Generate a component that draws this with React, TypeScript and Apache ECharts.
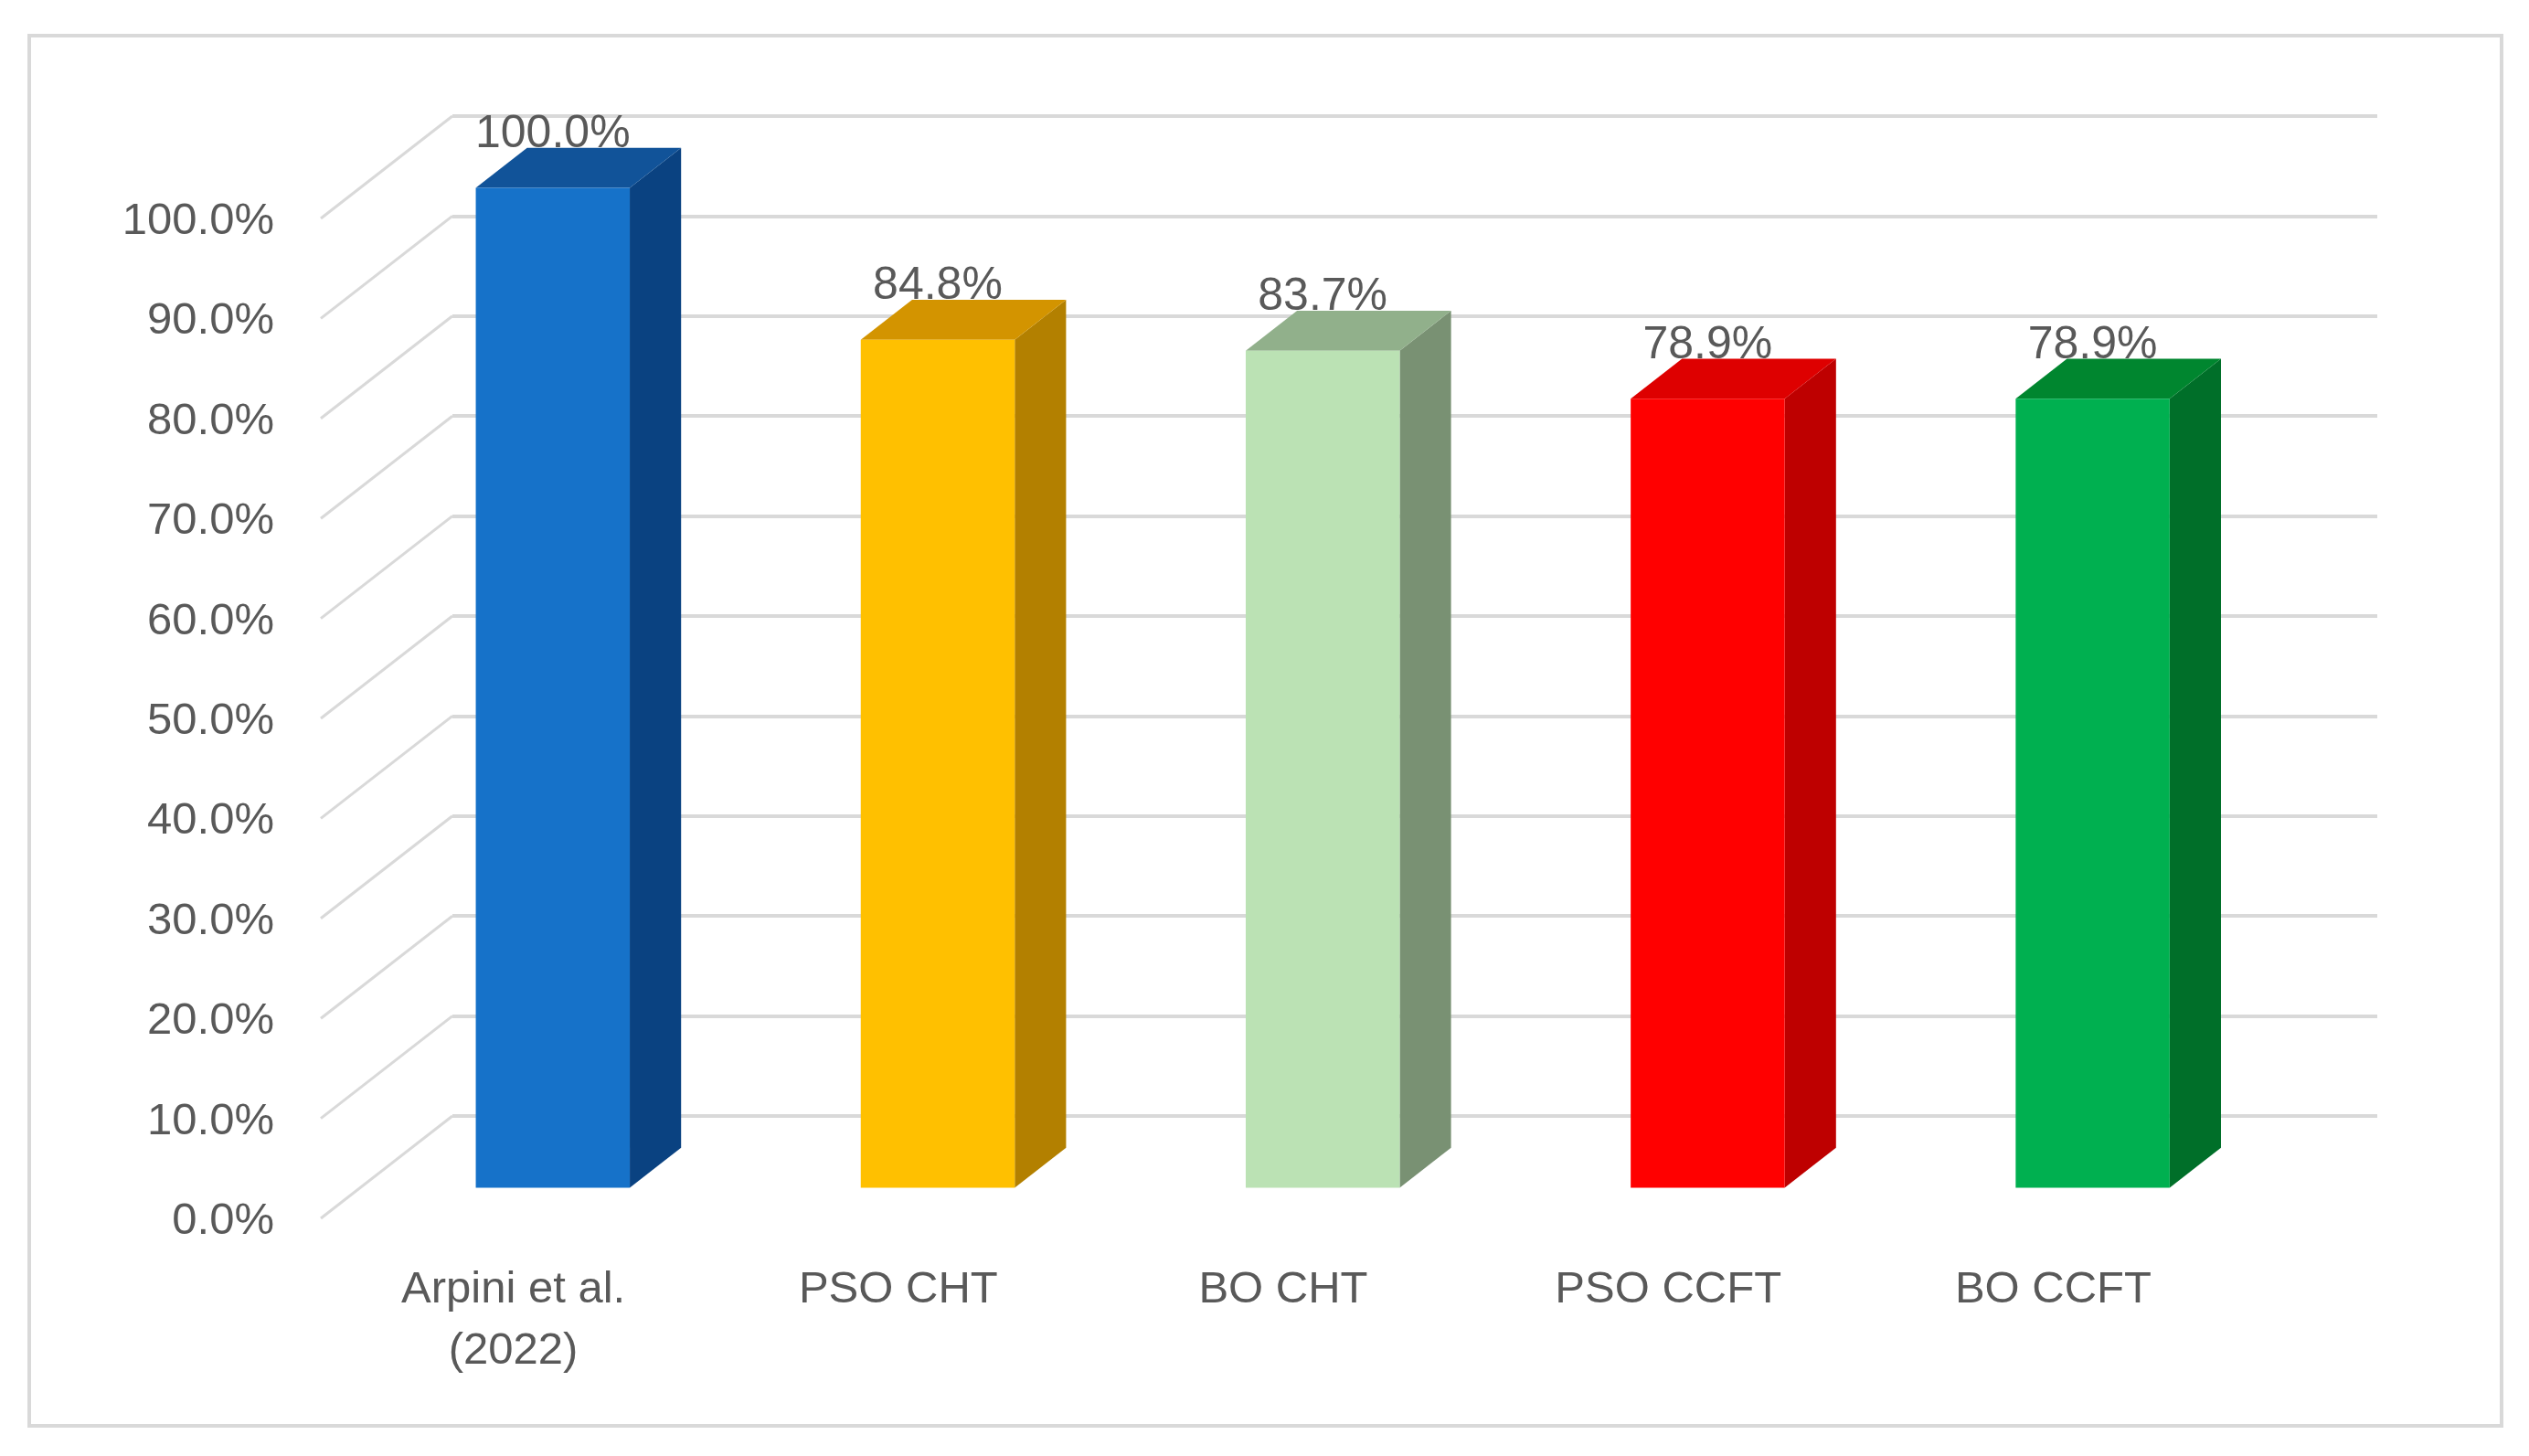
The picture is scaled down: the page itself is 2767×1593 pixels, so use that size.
import React, { useEffect, useRef } from "react";
import * as echarts from "echarts";

const categories = ["Arpini et al.\n(2022)", "PSO CHT", "BO CHT", "PSO CCFT", "BO CCFT"];
const values = [100.0, 84.8, 83.7, 78.9, 78.9];
const frontColors = ["#1672C9", "#FFC000", "#BBE2B4", "#FF0000", "#00B050"];
const topColors = ["#115399", "#D39400", "#91B08B", "#DE0000", "#00862F"];
const sideColors = ["#0A4281", "#B38000", "#799173", "#BE0000", "#006F29"];
const yTicks = [0, 10, 20, 30, 40, 50, 60, 70, 80, 90, 100];

const W = 2767;
const H = 1593;
const DX = 144; // depth projection (back wall offset)
const DY = -112;
const D0 = 0.3; // bar front depth
const D1 = 0.69; // bar back depth
const BAR_FRAC = 0.4;
const FRONT = { left: 351, right: 310, top: 239, bottom: 260 };
const TEXT = "#595959";
const GRID = "#D9D9D9";
const FONT = "'Liberation Sans', Arial, sans-serif";

export default function App() {
  const ref = useRef<HTMLDivElement>(null);
  useEffect(() => {
    if (!ref.current) return;
    const chart = echarts.init(ref.current, null, { renderer: "svg" });
    const barData = values.map((v, i) => [i, v]);
    const option: any = {
      animation: false,
      backgroundColor: "#ffffff",
      textStyle: { fontFamily: FONT },
      graphic: [
        {
          type: "rect",
          shape: { x: 32, y: 39, width: 2705, height: 1521 },
          style: { fill: "none", stroke: GRID, lineWidth: 4 },
          z: -10,
          silent: true,
        },
      ],
      grid: [
        {
          left: FRONT.left + DX,
          right: FRONT.right - DX,
          top: FRONT.top + DY,
          bottom: FRONT.bottom - DY,
        },
        { left: FRONT.left, right: FRONT.right, top: FRONT.top, bottom: FRONT.bottom },
      ],
      xAxis: [
        { type: "value", gridIndex: 0, min: 0, max: 1, show: false },
        {
          type: "category",
          gridIndex: 1,
          data: categories,
          axisLine: { show: false },
          axisTick: { show: false },
          splitLine: { show: false },
          axisLabel: {
            color: TEXT,
            fontSize: 49,
            fontFamily: FONT,
            lineHeight: 67,
            margin: 41,
            interval: 0,
          },
        },
      ],
      yAxis: [
        {
          type: "value",
          gridIndex: 0,
          min: 0,
          max: 100,
          interval: 10,
          axisLabel: { show: false },
          axisLine: { show: false },
          axisTick: { show: false },
          splitLine: { show: true, lineStyle: { color: GRID, width: 4 } },
        },
        {
          type: "value",
          gridIndex: 1,
          min: 0,
          max: 100,
          interval: 10,
          axisLine: { show: false },
          axisTick: { show: false },
          splitLine: { show: false },
          axisLabel: {
            color: TEXT,
            fontSize: 49,
            fontFamily: FONT,
            margin: 51,
            formatter: (v: number) => v.toFixed(1) + "%",
          },
        },
      ],
      series: [
        {
          type: "custom",
          xAxisIndex: 1,
          yAxisIndex: 1,
          silent: true,
          z: 1,
          data: yTicks.map((t) => [0, t]),
          renderItem: (params: any, api: any) => {
            const p = api.coord([0, api.value(1)]);
            const x0 = params.coordSys.x;
            return {
              type: "line",
              shape: { x1: x0, y1: p[1], x2: x0 + DX, y2: p[1] + DY },
              style: { stroke: GRID, lineWidth: 3 },
            };
          },
        },
        {
          type: "custom",
          xAxisIndex: 1,
          yAxisIndex: 1,
          silent: true,
          z: 5,
          data: barData,
          renderItem: (params: any, api: any) => {
            const idx = api.value(0);
            const v = api.value(1);
            const top = api.coord([idx, v]);
            const bot = api.coord([idx, 0]);
            const band = api.size([1, 0])[0];
            const w = band * BAR_FRAC;
            const cx = top[0];
            const fx = D0 * DX, fy = D0 * DY;
            const bx = D1 * DX, by = D1 * DY;
            const xl = cx - w / 2, xr = cx + w / 2;
            const yt = top[1], yb = bot[1];
            const front = [
              [xl + fx, yt + fy],
              [xr + fx, yt + fy],
              [xr + fx, yb + fy],
              [xl + fx, yb + fy],
            ];
            const topFace = [
              [xl + fx, yt + fy],
              [xr + fx, yt + fy],
              [xr + bx, yt + by],
              [xl + bx, yt + by],
            ];
            const side = [
              [xr + fx, yt + fy],
              [xr + bx, yt + by],
              [xr + bx, yb + by],
              [xr + fx, yb + fy],
            ];
            return {
              type: "group",
              children: [
                { type: "polygon", shape: { points: side }, style: { fill: sideColors[idx] } },
                { type: "polygon", shape: { points: topFace }, style: { fill: topColors[idx] } },
                { type: "polygon", shape: { points: front }, style: { fill: frontColors[idx] } },
                {
                  type: "text",
                  x: cx + fx,
                  y: yt + by + 7,
                  style: {
                    text: v.toFixed(1) + "%",
                    fill: TEXT,
                    fontSize: 50,
                    fontFamily: FONT,
                    align: "center",
                    verticalAlign: "bottom",
                  },
                },
              ],
            };
          },
        },
      ],
    };
    chart.setOption(option);
    return () => chart.dispose();
  }, []);
  return (
    <div
      ref={ref}
      style={{ position: "fixed", left: 0, top: 0, width: W, height: H, background: "#fff" }}
    />
  );
}
